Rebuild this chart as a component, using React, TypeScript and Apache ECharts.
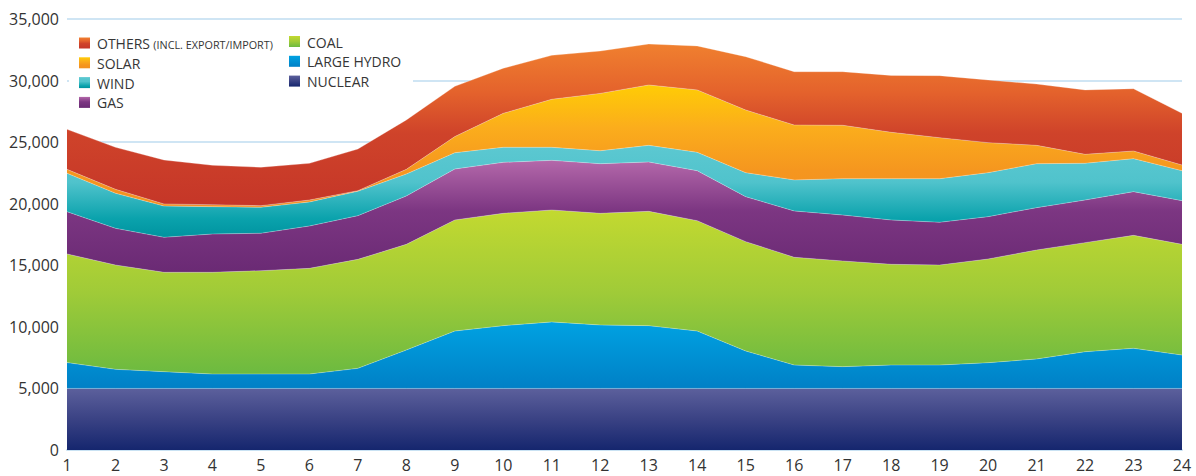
import React, { useEffect, useRef } from "react";
import * as echarts from "echarts";

const hours = ["1","2","3","4","5","6","7","8","9","10","11","12","13","14","15","16","17","18","19","20","21","22","23","24"];

const nuclear = [5000,5000,5000,5000,5000,5000,5000,5000,5000,5000,5000,5000,5000,5000,5000,5000,5000,5000,5000,5000,5000,5000,5000,5000];
const largeHydro = [2100,1550,1360,1170,1170,1170,1630,3120,4660,5100,5400,5150,5100,4660,3040,1900,1770,1900,1900,2090,2390,2980,3260,2710];
const coal = [8820,8470,8070,8260,8390,8580,8850,8580,9020,9120,9090,9070,9280,8960,8880,8750,8580,8180,8120,8420,8850,8860,9170,8990];
const gas = [3430,2980,2840,3110,3040,3440,3550,3930,4140,4140,4030,4030,4010,4060,3650,3760,3730,3600,3470,3440,3440,3460,3550,3550];
const wind = [3120,2850,2540,2220,2110,1950,1980,1780,1320,1220,1060,1050,1350,1490,1950,2520,2950,3350,3540,3570,3570,2980,2680,2430];
const solar = [320,320,170,160,130,160,50,380,1310,2760,3900,4660,4900,5070,5090,4460,4340,3770,3330,2440,1490,730,620,460];
const others = [3250,3410,3570,3200,3120,2980,3380,4010,4080,3660,3570,3440,3330,3570,4330,4330,4350,4620,5040,5090,4980,5230,5060,4200];

const yTicks = [0, 5000, 10000, 15000, 20000, 25000, 30000, 35000];

const seriesNames = ["NUCLEAR", "LARGE HYDRO", "COAL", "GAS", "WIND", "SOLAR", "OTHERS"];
const seriesData = [nuclear, largeHydro, coal, gas, wind, solar, others];

const legendCol1 = ["OTHERS", "SOLAR", "WIND", "GAS"];
const legendCol2 = ["COAL", "LARGE HYDRO", "NUCLEAR"];

const gradStops: Record<string, [number, string][]> = {
  NUCLEAR: [[0, "#5c609c"], [0.5, "#3a4284"], [1, "#15266e"]],
  "LARGE HYDRO": [[0, "#00a2e2"], [1, "#0080c6"]],
  COAL: [[0, "#c3d930"], [0.5, "#a0cb38"], [1, "#6cba40"]],
  GAS: [[0, "#b468aa"], [0.45, "#7c3682"], [1, "#6a2a74"]],
  WIND: [[0, "#5cc8d1"], [0.4, "#50c3cc"], [0.8, "#0aa2ac"], [1, "#00939f"]],
  SOLAR: [[0, "#ffcc05"], [0.35, "#fbad1c"], [0.7, "#f5961f"], [1, "#f39020"]],
  OTHERS: [[0, "#f0802f"], [0.3, "#e4622c"], [0.55, "#cf432a"], [1, "#c53628"]],
};

function grad(name: string) {
  return new echarts.graphic.LinearGradient(
    0, 0, 0, 1,
    gradStops[name].map(([offset, color]) => ({ offset, color }))
  );
}

export default function App() {
  const ref = useRef<HTMLDivElement>(null);
  useEffect(() => {
    if (!ref.current) return;
    const chart = echarts.init(ref.current, null, { renderer: "svg" });
    const font = "'Open Sans', 'DejaVu Sans', sans-serif";

    const legendGraphics: any[] = [
      {
        type: "rect",
        shape: { x: 69, y: 27, width: 344, height: 90 },
        style: { fill: "#ffffff" },
        silent: true,
        z: 1,
      },
    ];
    const addLegend = (names: string[], x: number, y0: number) => {
      names.forEach((name, i) => {
        const y = y0 + i * 19.8;
        legendGraphics.push({
          type: "rect",
          shape: { x, y, width: 11, height: 11 },
          style: { fill: grad(name) },
          silent: true,
          z: 3,
        });
        legendGraphics.push({
          type: "text",
          x: x + 18,
          y: y + 6,
          style: {
            text: name === "OTHERS" ? "{a|OTHERS} {b|(INCL. EXPORT/IMPORT)}" : "{a|" + name + "}",
            verticalAlign: "middle",
            align: "left",
            rich: {
              a: { fontFamily: font, fontSize: 14, fill: "#363636" },
              b: { fontFamily: font, fontSize: 10.8, fill: "#363636", padding: [2, 0, 0, 0] },
            },
          },
          silent: true,
          z: 3,
        });
      });
    };
    addLegend(legendCol1, 79, 37.5);
    addLegend(legendCol2, 289, 36);

    chart.setOption({
      animation: false,
      backgroundColor: "#ffffff",
      grid: { left: 67, right: 14, top: 19, bottom: 26, containLabel: false },
      xAxis: {
        type: "category",
        data: hours,
        boundaryGap: false,
        axisLine: { show: true, lineStyle: { color: "#c9e2f3", width: 2 } },
        axisTick: { show: false },
        axisLabel: { color: "#333333", fontFamily: font, fontSize: 16, margin: 7, interval: 0 },
        splitLine: { show: false },
      },
      yAxis: {
        type: "value",
        min: yTicks[0],
        max: yTicks[yTicks.length - 1],
        interval: yTicks[1] - yTicks[0],
        axisLine: { show: false },
        axisTick: { show: false },
        axisLabel: {
          color: "#333333",
          fontFamily: font,
          fontSize: 16,
          margin: 8,
          formatter: (v: number) => v.toLocaleString("en-US"),
        },
        splitLine: { show: true, lineStyle: { color: "#cfe5f4", width: 2 } },
      },
      graphic: legendGraphics,
      series: seriesNames.map((name, i) => ({
        name,
        type: "line",
        stack: "total",
        data: seriesData[i],
        symbol: "none",
        smooth: false,
        lineStyle: { width: 0.8, color: "rgba(255,255,255,0.35)" },
        areaStyle: { color: grad(name), opacity: 1 },
        itemStyle: { color: grad(name) },
        z: 2,
      })),
    });
    return () => chart.dispose();
  }, []);
  return <div ref={ref} style={{ width: 1196, height: 476, position: "absolute", left: 0, top: 0 }} />;
}
